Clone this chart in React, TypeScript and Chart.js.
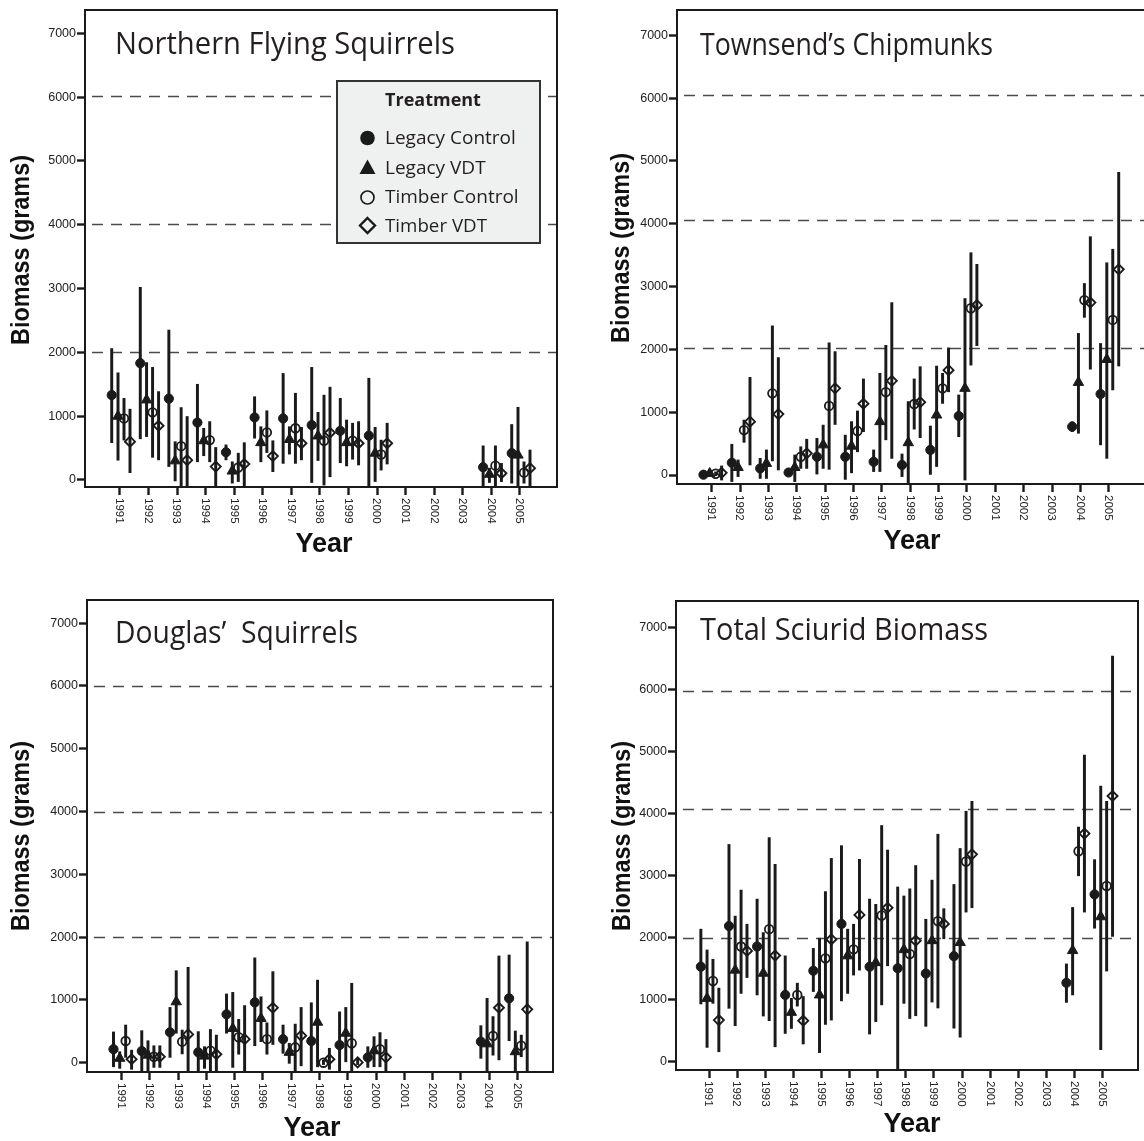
import React, { useEffect, useRef } from 'react';
import { Chart, registerables } from 'chart.js';

Chart.register(...registerables);

// ---------------- data ----------------
const DATA_YEARS = [1991, 1992, 1993, 1994, 1995, 1996, 1997, 1998, 1999, 2000, 2004, 2005];
const X_TICKS = [1991, 1992, 1993, 1994, 1995, 1996, 1997, 1998, 1999, 2000, 2001, 2002, 2003, 2004, 2005];
const Y_TICKS = [0, 1000, 2000, 3000, 4000, 5000, 6000, 7000];
const TREATMENTS = ['Legacy Control', 'Legacy VDT', 'Timber Control', 'Timber VDT'];
const TREATMENT_OFFSETS = [-0.29, -0.07, 0.14, 0.35];

// each entry: [mean, lower bound, upper bound]
const FLYING_LEGACY_CONTROL = [[1330, 585, 2060], [1830, 645, 3020], [1275, 210, 2350], [900, 285, 1500], [435, 315, 550], [980, 655, 1305], [965, 260, 1670], [860, -40, 1765], [770, 270, 1280], [695, -200, 1595], [200, -200, 535], [420, -50, 870]];
const FLYING_LEGACY_VDT = [[1000, 310, 1680], [1255, 680, 1840], [300, -15, 600], [615, 380, 810], [140, -50, 285], [585, 285, 835], [635, 405, 835], [690, 305, 1060], [585, 220, 940], [420, -25, 825], [90, -40, 185], [390, -200, 1140]];
const FLYING_TIMBER_CONTROL = [[965, 625, 1280], [1060, 355, 1765], [530, -200, 1135], [625, 285, 915], [195, -25, 420], [745, 430, 1085], [810, 260, 1360], [615, -80, 1330], [615, 325, 890], [400, 155, 625], [225, -200, 535], [115, -50, 285]];
const FLYING_TIMBER_VDT = [[600, 115, 1110], [850, 315, 1385], [310, -200, 995], [210, -200, 510], [250, -200, 585], [375, 130, 615], [575, 315, 825], [740, 50, 1455], [575, 235, 915], [575, 250, 890], [105, -25, 260], [185, -200, 470]];

const CHIPMUNK_LEGACY_CONTROL = [[5, 0, 20], [195, -105, 490], [105, -55, 265], [40, 0, 80], [290, 15, 585], [290, -70, 635], [210, 55, 400], [160, -25, 335], [400, 10, 780], [940, 610, 1275], [770, 690, 850], [1290, 480, 2095]];
const CHIPMUNK_LEGACY_VDT = [[25, 0, 60], [120, -25, 240], [185, -55, 400], [120, -105, 320], [480, 105, 795], [460, 35, 850], [850, 55, 1620], [515, -150, 1170], [955, 135, 1735], [1380, -80, 2810], [1475, 665, 2255], [1840, 265, 3380]];
const CHIPMUNK_TIMBER_CONTROL = [[20, -10, 50], [715, 520, 875], [1300, 225, 2375], [290, 105, 450], [1100, 90, 2105], [700, 370, 1020], [1320, 560, 2065], [1130, 730, 1530], [1380, 1140, 1620], [2655, 1750, 3540], [2785, 2510, 3050], [2470, 1355, 3595]];
const CHIPMUNK_TIMBER_VDT = [[35, -80, 145], [850, 160, 1555], [970, 80, 1870], [345, 105, 570], [1380, 805, 1965], [1135, 690, 1530], [1500, 265, 2745], [1160, 595, 1725], [1670, 1325, 2025], [2705, 2060, 3355], [2745, 1685, 3795], [3275, 1735, 4820]];

const DOUGLAS_LEGACY_CONTROL = [[215, -65, 490], [185, -150, 510], [485, 85, 880], [165, -150, 495], [770, 470, 1095], [960, 270, 1670], [375, 150, 600], [345, -150, 955], [280, -150, 810], [85, -75, 255], [335, 70, 590], [1025, 350, 1715]];
const DOUGLAS_LEGACY_VDT = [[70, -90, 175], [120, -130, 350], [970, 470, 1465], [105, -90, 255], [545, -75, 1120], [705, 335, 1050], [165, -10, 310], [645, -65, 1315], [470, 15, 880], [190, -65, 415], [300, -150, 1025], [175, -150, 505]];
const DOUGLAS_TIMBER_CONTROL = [[345, 85, 600], [95, -75, 270], [335, 140, 520], [190, -150, 530], [405, 135, 690], [375, 135, 635], [245, -150, 615], [0, -30, 40], [310, -150, 1265], [215, -65, 480], [425, 120, 735], [270, 95, 440]];
const DOUGLAS_TIMBER_VDT = [[55, -105, 200], [95, -75, 270], [450, -150, 1520], [135, -150, 440], [375, -150, 910], [875, 290, 1450], [430, -50, 880], [55, -105, 230], [5, -30, 60], [85, -150, 370], [875, 45, 1700], [850, -150, 1925]];

const TOTAL_LEGACY_CONTROL = [[1530, 930, 2135], [2185, 860, 3500], [1855, 1075, 2620], [1075, 455, 1705], [1465, 1130, 1825], [2220, 980, 3480], [1530, 445, 2620], [1505, -150, 2815], [1420, 570, 2295], [1700, 540, 2855], [1270, 955, 1575], [2695, 2150, 3255]];
const TOTAL_LEGACY_VDT = [[1020, 230, 1800], [1475, 580, 2345], [1425, 735, 2080], [795, 535, 1020], [1075, 145, 1990], [1705, 1100, 2135], [1595, 645, 2535], [1805, 940, 2670], [1950, 960, 2925], [1920, 395, 3435], [1790, 1075, 2485], [2335, 195, 4440]];
const TOTAL_TIMBER_CONTROL = [[1300, 940, 1650], [1855, 1100, 2765], [2135, 660, 3610], [1075, 895, 1265], [1665, 600, 2740], [1810, 1395, 2215], [2355, 915, 3805], [1735, 695, 2785], [2265, 865, 3665], [3225, 2410, 4035], [3390, 2995, 3780], [2830, 1460, 4195]];
const TOTAL_TIMBER_VDT = [[670, 160, 1185], [1785, 1355, 2215], [1710, 240, 3180], [660, 285, 1050], [1970, 670, 3275], [2365, 1475, 3260], [2480, 1545, 3410], [1950, 740, 3160], [2220, 1980, 2465], [3340, 2480, 4195], [3675, 2410, 4940], [4280, 2020, 6535]];

// ---------------- layout / styling ----------------
const INK = '#1a1a1a';
const TEXT = '#231f20';
const AXIS_FONT = '"Liberation Sans", Arial, sans-serif';
const TITLE_FONT = '"Open Sans", "Noto Sans", sans-serif';
const Y_AXIS_SPACE = 85;
const X_AXIS_SPACE = 80;
const PAD_TOP = 10;
const PAD_RIGHT = 12;

const MARKERS = [
  { style: 'circle', r: 4.6, bg: INK, bw: 1 },
  { style: 'triangle', r: 6, bg: INK, bw: 1 },
  { style: 'circle', r: 4.3, bg: 'rgba(0,0,0,0)', bw: 1.8 },
  { style: 'rectRot', r: 5, bg: 'rgba(0,0,0,0)', bw: 1.9 },
];

type Panel = {
  id: string;
  title: string;
  series: number[][][];
  frame: { l: number; t: number; r: number; b: number };
  xRange: [number, number];
  yRange: [number, number];
  dashes: number[];
  titlePos: { x: number; base: number; maxW: number };
  yTitle: { x: number; y: number };
  xTitle: { x: number; base: number };
  legend: boolean;
};

const PANELS: Panel[] = [
  {
    id: 'flying',
    title: 'Northern Flying Squirrels',
    series: [FLYING_LEGACY_CONTROL, FLYING_LEGACY_VDT, FLYING_TIMBER_CONTROL, FLYING_TIMBER_VDT],
    frame: { l: 85, t: 10, r: 557, b: 487 },
    xRange: [1989.775, 2006.295],
    yRange: [-110, 7366],
    dashes: [2000, 4010, 6020],
    titlePos: { x: 115, base: 54, maxW: 340 },
    yTitle: { x: 22, y: 250 },
    xTitle: { x: 324, base: 552 },
    legend: true,
  },
  {
    id: 'chipmunk',
    title: 'Townsend\u2019s Chipmunks',
    series: [CHIPMUNK_LEGACY_CONTROL, CHIPMUNK_LEGACY_VDT, CHIPMUNK_TIMBER_CONTROL, CHIPMUNK_TIMBER_VDT],
    frame: { l: 677, t: 10, r: 1150, b: 484 },
    xRange: [1989.777, 2006.453],
    yRange: [-143, 7404],
    dashes: [2020, 4060, 6050],
    titlePos: { x: 700, base: 55, maxW: 293 },
    yTitle: { x: 622, y: 248 },
    xTitle: { x: 912, base: 549 },
    legend: false,
  },
  {
    id: 'douglas',
    title: 'Douglas\u2019  Squirrels',
    series: [DOUGLAS_LEGACY_CONTROL, DOUGLAS_LEGACY_VDT, DOUGLAS_TIMBER_CONTROL, DOUGLAS_TIMBER_VDT],
    frame: { l: 87, t: 600, r: 553, b: 1072 },
    xRange: [1989.772, 2006.263],
    yRange: [-148, 7368],
    dashes: [2000, 4000, 6000],
    titlePos: { x: 115, base: 643, maxW: 243 },
    yTitle: { x: 22, y: 836 },
    xTitle: { x: 312, base: 1136 },
    legend: false,
  },
  {
    id: 'total',
    title: 'Total Sciurid Biomass',
    series: [TOTAL_LEGACY_CONTROL, TOTAL_LEGACY_VDT, TOTAL_TIMBER_CONTROL, TOTAL_TIMBER_VDT],
    frame: { l: 676, t: 601, r: 1138, b: 1070 },
    xRange: [1989.826, 2006.255],
    yRange: [-134, 7422],
    dashes: [2000, 4070, 5975],
    titlePos: { x: 700, base: 640, maxW: 288 },
    yTitle: { x: 623, y: 836 },
    xTitle: { x: 912, base: 1132 },
    legend: false,
  },
];

function buildDatasets(series: number[][][]) {
  const ds: any[] = [];
  series.forEach((s, i) => {
    const off = TREATMENT_OFFSETS[i];
    ds.push({
      type: 'bar',
      label: TREATMENTS[i] + ' interval',
      data: s.map((v, j) => ({ x: DATA_YEARS[j] + off, y: [v[1], v[2]] })),
      backgroundColor: INK,
      borderWidth: 0,
      barThickness: 2.3,
      maxBarThickness: 2.3,
      grouped: false,
      order: 2,
    });
    const m = MARKERS[i];
    ds.push({
      type: 'scatter',
      label: TREATMENTS[i],
      data: s.map((v, j) => ({ x: DATA_YEARS[j] + off, y: v[0] })),
      showLine: false,
      pointStyle: m.style,
      pointRadius: m.r,
      pointHoverRadius: m.r,
      pointBackgroundColor: m.bg,
      pointBorderColor: INK,
      pointBorderWidth: m.bw,
      order: 1,
    });
  });
  return ds;
}

function drawLegend(ctx: CanvasRenderingContext2D, ox: number, oy: number) {
  ctx.save();
  ctx.translate(-ox, -oy);
  ctx.fillStyle = '#eff0f0';
  ctx.fillRect(337, 81, 203, 162);
  ctx.strokeStyle = '#333';
  ctx.lineWidth = 2;
  ctx.setLineDash([]);
  ctx.strokeRect(337, 81, 203, 162);

  ctx.fillStyle = TEXT;
  ctx.textBaseline = 'alphabetic';
  ctx.textAlign = 'center';
  ctx.font = 'bold 18px ' + TITLE_FONT;
  ctx.fillText('Treatment', 433, 106, 100);

  const sx = 367.5;
  const rows = [138, 167, 197.5, 225.5];
  const bases = [144, 173.5, 203, 232];
  const widths = [137, 102, 137, 102];
  ctx.fillStyle = INK;
  ctx.strokeStyle = INK;
  ctx.beginPath();
  ctx.arc(sx, rows[0], 7.3, 0, Math.PI * 2);
  ctx.fill();
  ctx.beginPath();
  ctx.moveTo(sx - 8, rows[1] + 7);
  ctx.lineTo(sx + 8, rows[1] + 7);
  ctx.lineTo(sx, rows[1] - 7.5);
  ctx.closePath();
  ctx.fill();
  ctx.lineWidth = 1.7;
  ctx.beginPath();
  ctx.arc(sx, rows[2], 6.5, 0, Math.PI * 2);
  ctx.stroke();
  ctx.lineWidth = 2.4;
  ctx.beginPath();
  ctx.moveTo(sx, rows[3] - 7.5);
  ctx.lineTo(sx + 7.5, rows[3]);
  ctx.lineTo(sx, rows[3] + 7.5);
  ctx.lineTo(sx - 7.5, rows[3]);
  ctx.closePath();
  ctx.stroke();

  ctx.fillStyle = TEXT;
  ctx.textAlign = 'left';
  ctx.font = '19px ' + TITLE_FONT;
  TREATMENTS.forEach((t, i) => ctx.fillText(t, 385, bases[i], widths[i]));
  ctx.restore();
}

function decorPlugin(p: Panel, ox: number, oy: number) {
  return {
    id: 'panelDecor_' + p.id,
    beforeDatasetsDraw(chart: any) {
      const { ctx, chartArea: a, scales } = chart;
      ctx.save();
      ctx.beginPath();
      ctx.rect(a.left, a.top, a.right - a.left, a.bottom - a.top);
      ctx.clip();
      ctx.strokeStyle = '#4a4a4a';
      ctx.lineWidth = 1.5;
      ctx.setLineDash([11, 8]);
      ctx.lineDashOffset = 12;
      p.dashes.forEach((v) => {
        const y = Math.round(scales.y.getPixelForValue(v)) + 0.5;
        ctx.beginPath();
        ctx.moveTo(a.left, y);
        ctx.lineTo(a.right, y);
        ctx.stroke();
      });
      ctx.restore();
    },
    afterDraw(chart: any) {
      const { ctx, chartArea: a, scales } = chart;
      ctx.save();
      ctx.setLineDash([]);
      ctx.strokeStyle = INK;
      ctx.lineWidth = 2;
      ctx.strokeRect(a.left, a.top, a.right - a.left, a.bottom - a.top);

      // rotated year labels
      ctx.fillStyle = '#222';
      ctx.font = '11.5px ' + AXIS_FONT;
      ctx.textAlign = 'left';
      ctx.textBaseline = 'middle';
      scales.x.ticks.forEach((t: any) => {
        const px = scales.x.getPixelForValue(t.value);
        ctx.save();
        ctx.translate(px - 0.5, a.bottom + 11);
        ctx.rotate(Math.PI / 2);
        ctx.fillText(String(t.value), 0, 0);
        ctx.restore();
      });

      // panel title
      ctx.fillStyle = TEXT;
      ctx.font = '31px ' + TITLE_FONT;
      ctx.textAlign = 'left';
      ctx.textBaseline = 'alphabetic';
      ctx.fillText(p.title, p.titlePos.x - ox, p.titlePos.base - oy, p.titlePos.maxW);

      // axis titles
      ctx.fillStyle = '#111';
      ctx.font = 'bold 25px ' + AXIS_FONT;
      ctx.save();
      ctx.translate(p.yTitle.x - ox, p.yTitle.y - oy);
      ctx.rotate(-Math.PI / 2);
      ctx.textAlign = 'center';
      ctx.textBaseline = 'middle';
      ctx.fillText('Biomass (grams)', 0, 0, 190);
      ctx.restore();

      ctx.font = 'bold 28px ' + AXIS_FONT;
      ctx.textAlign = 'center';
      ctx.textBaseline = 'alphabetic';
      ctx.fillText('Year', p.xTitle.x - ox, p.xTitle.base - oy, 57);
      ctx.restore();

      if (p.legend) drawLegend(ctx, ox, oy);
    },
  };
}

function PanelChart({ p }: { p: Panel }) {
  const ref = useRef<HTMLCanvasElement | null>(null);
  const left = p.frame.l - Y_AXIS_SPACE;
  const top = p.frame.t - PAD_TOP;
  const width = p.frame.r - p.frame.l + Y_AXIS_SPACE + PAD_RIGHT;
  const height = p.frame.b - p.frame.t + PAD_TOP + X_AXIS_SPACE;

  useEffect(() => {
    if (!ref.current) return;
    const chart = new Chart(ref.current, {
      type: 'scatter',
      data: { datasets: buildDatasets(p.series) as any },
      options: {
        animation: false,
        responsive: false,
        devicePixelRatio: 1,
        layout: { padding: { left: 0, top: PAD_TOP, right: PAD_RIGHT, bottom: 0 } },
        plugins: { legend: { display: false }, tooltip: { enabled: false }, title: { display: false } },
        scales: {
          x: {
            type: 'linear',
            min: p.xRange[0],
            max: p.xRange[1],
            offset: false,
            afterBuildTicks: (s: any) => {
              s.ticks = X_TICKS.map((v) => ({ value: v }));
            },
            afterFit: (s: any) => {
              s.height = X_AXIS_SPACE;
            },
            ticks: { display: false, autoSkip: false },
            grid: {
              offset: false,
              drawOnChartArea: false,
              drawTicks: true,
              tickLength: 8,
              tickWidth: 2.4,
              tickColor: INK,
            },
            border: { display: false },
          },
          y: {
            type: 'linear',
            min: p.yRange[0],
            max: p.yRange[1],
            afterBuildTicks: (s: any) => {
              s.ticks = Y_TICKS.map((v) => ({ value: v }));
            },
            afterFit: (s: any) => {
              s.width = Y_AXIS_SPACE;
            },
            ticks: {
              autoSkip: false,
              padding: 1,
              color: '#222',
              font: { family: AXIS_FONT, size: 12.5 },
              callback: (v: any) => String(v),
            },
            grid: {
              offset: false,
              drawOnChartArea: false,
              drawTicks: true,
              tickLength: 8,
              tickWidth: 2.4,
              tickColor: INK,
            },
            border: { display: false },
          },
        },
      } as any,
      plugins: [decorPlugin(p, left, top)],
    });
    return () => chart.destroy();
  }, []);

  return (
    <canvas
      ref={ref}
      width={width}
      height={height}
      style={{ position: 'absolute', left, top, width, height }}
    />
  );
}

export default function App() {
  return (
    <div
      style={{
        position: 'absolute',
        left: 0,
        top: 0,
        width: 1144,
        height: 1141,
        overflow: 'hidden',
        background: '#ffffff',
      }}
    >
      {PANELS.map((p) => (
        <PanelChart key={p.id} p={p} />
      ))}
    </div>
  );
}
